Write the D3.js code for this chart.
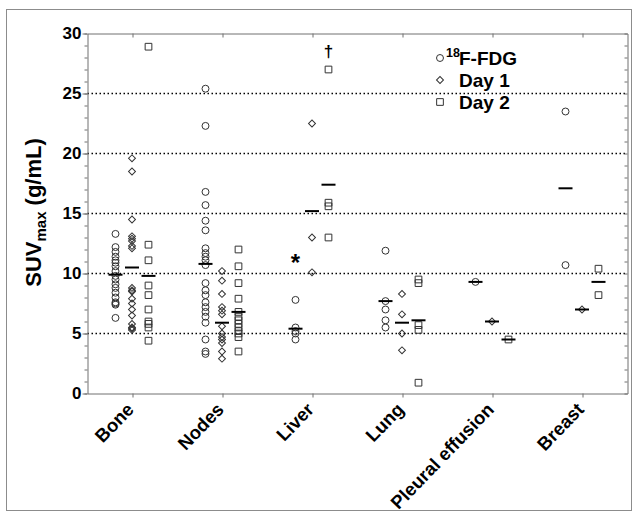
<!DOCTYPE html>
<html>
<head>
<meta charset="utf-8">
<script src="https://cdn.jsdelivr.net/npm/d3@7"></script>
<style>
  body { margin: 0; background: #fff; }
  svg { font-family: Arial, "Liberation Sans", sans-serif; }
</style>
</head>
<body>
<script>
// categories and series
var categories = ["Bone", "Nodes", "Liver", "Lung", "Pleural effusion", "Breast"];
var series = ["FDG", "Day 1", "Day 2"];

// individual SUVmax values per category
var fdgValues = [
  [13.3, 12.2, 11.8, 11.4, 11.1, 10.9, 10.6, 10.2, 9.8, 9.5, 9.1, 8.8, 8.4, 8.0, 7.6, 7.5, 7.4, 6.3],
  [25.4, 22.3, 16.8, 15.7, 14.4, 13.6, 12.1, 11.7, 11.4, 11.1, 10.7, 9.2, 8.6, 8.2, 7.6, 7.2, 6.8, 6.4, 5.9, 4.5, 3.5, 3.3],
  [7.8, 5.5, 5.2, 5.0, 4.5],
  [11.9, 7.7, 7.0, 6.1, 5.5],
  [9.3],
  [23.5, 10.7]
];
var day1Values = [
  [19.6, 18.5, 14.5, 13.1, 12.9, 12.7, 12.3, 12.1, 8.8, 8.6, 8.5, 7.9, 7.5, 7.0, 6.5, 5.8, 5.5, 5.4, 5.3],
  [10.2, 9.4, 8.3, 7.2, 6.9, 6.6, 5.6, 5.0, 4.7, 4.5, 4.2, 3.5, 2.9],
  [22.5, 13.0, 10.1],
  [8.3, 6.6, 5.0, 3.6],
  [6.0],
  [7.0]
];
var day2Values = [
  [28.9, 12.4, 11.1, 9.0, 8.2, 7.0, 6.0, 5.8, 5.5, 4.4],
  [12.0, 10.6, 9.2, 7.9, 6.8, 6.4, 6.1, 5.8, 5.5, 5.2, 5.0, 4.7, 3.5],
  [27.0, 15.9, 15.6, 13.0],
  [9.5, 9.2, 5.7, 5.3, 0.9],
  [4.5],
  [10.4, 8.2]
];

// mean bars drawn in the figure
var fdgMeans = [9.9, 10.8, 5.4, 7.7, 9.3, 17.1];
var day1Means = [10.5, 5.9, 15.2, 5.9, 6.0, 7.0];
var day2Means = [9.8, 6.8, 17.4, 6.1, 4.5, 9.3];

// y axis ticks
var yTicks = [0, 5, 10, 15, 20, 25, 30];
var gridValues = [5, 10, 15, 20, 25];

// significance marks
var marks = [
  {category: "Liver", series: "FDG", value: 11.2, text: "*"},
  {category: "Liver", series: "Day 2", value: 28.5, text: "\u2020"}
];

// legend labels
var legendSup = ["18", "", ""];
var legendLabels = ["F-FDG", "Day 1", "Day 2"];

var allValues = [fdgValues, day1Values, day2Values];
var allMeans = [fdgMeans, day1Means, day2Means];

// dimensions
var W = 638, H = 517;
var margin = {top: 33.5, right: 10.5, bottom: 123.5, left: 87.5},
    width = W - margin.left - margin.right,
    height = H - margin.top - margin.bottom;

var svg = d3.select("body").append("svg")
    .attr("width", W)
    .attr("height", H);

// outer frame
svg.append("rect")
    .attr("x", 6.5).attr("y", 9.5)
    .attr("width", 625).attr("height", 501)
    .attr("fill", "#fff")
    .attr("stroke", "#8c8c8c")
    .attr("stroke-width", 1);

var g = svg.append("g")
    .attr("transform", "translate(" + margin.left + "," + margin.top + ")");

// scales
var x = d3.scalePoint().domain(categories).range([0, width]).padding(0.5);
var xs = d3.scalePoint().domain(series).range([-17, 16]);
var y = d3.scaleLinear().domain([0, 30]).range([height, 0]);

// dotted gridlines
g.selectAll(".grid")
    .data(gridValues)
    .enter().append("line")
    .attr("x1", 0).attr("x2", width)
    .attr("y1", function(d){ return y(d); })
    .attr("y2", function(d){ return y(d); })
    .attr("stroke", "#000")
    .attr("stroke-width", 1.5)
    .attr("stroke-dasharray", "1.5,2.5");

var axisColor = "#707070";

// minor ticks left
g.append("g")
    .call(d3.axisLeft(y).ticks(30).tickSize(3).tickFormat(""))
    .call(function(a){ a.select(".domain").remove(); })
    .selectAll("line").attr("stroke", axisColor);

// left axis
var leftAxis = g.append("g")
    .call(d3.axisLeft(y).tickValues(yTicks).tickSize(5).tickPadding(1).tickSizeOuter(0));
leftAxis.selectAll("line, path").attr("stroke", axisColor);
leftAxis.selectAll("text")
    .style("font-size", "17px")
    .style("font-weight", "bold")
    .attr("fill", "#000");

// right frame with inward ticks
var rightAxis = g.append("g")
    .attr("transform", "translate(" + width + ",0)")
    .call(d3.axisRight(y).ticks(30).tickSize(-3).tickSizeOuter(0).tickFormat(""));
rightAxis.selectAll("line, path").attr("stroke", axisColor);

// top frame with inward ticks
var topAxis = g.append("g")
    .call(d3.axisTop(x).tickSize(-4).tickSizeOuter(0).tickFormat(""));
topAxis.selectAll("line, path").attr("stroke", axisColor);

// bottom axis
var bottomAxis = g.append("g")
    .attr("transform", "translate(0," + height + ")")
    .call(d3.axisBottom(x).tickSize(4).tickSizeOuter(0));
bottomAxis.selectAll("line, path").attr("stroke", axisColor);
bottomAxis.selectAll("text")
    .style("font-size", "18.5px")
    .style("font-weight", "bold")
    .attr("fill", "#000")
    .style("text-anchor", "end")
    .attr("y", 0)
    .attr("dy", 0)
    .attr("transform", "translate(2,17) rotate(-46)");

// y label
var ylab = svg.append("text")
    .attr("transform", "translate(41," + (margin.top + height / 2 - 1) + ") rotate(-90)")
    .attr("text-anchor", "middle")
    .style("font-size", "22px")
    .style("font-weight", "bold");
ylab.append("tspan").text("SUV");
ylab.append("tspan").attr("dy", 5).style("font-size", "15px").text("max");
ylab.append("tspan").attr("dy", -5).text(" (g/mL)");

// symbols: circle, diamond (square turned 45 degrees), square
var symbolTypes = [d3.symbolCircle, d3.symbolSquare, d3.symbolSquare];
var symbolSizes = [38, 24, 45];
var symbolTurn = [0, 45, 0];
function symbolPath(i) {
  return d3.symbol().type(symbolTypes[i]).size(symbolSizes[i])();
}

series.forEach(function(s, si) {
  categories.forEach(function(c, ci) {
    var cx = x(c) + xs(s);
    g.selectAll(null)
        .data(allValues[si][ci])
        .enter().append("path")
        .attr("d", symbolPath(si))
        .attr("transform", function(d){
          return "translate(" + cx + "," + y(d) + ") rotate(" + symbolTurn[si] + ")";
        })
        .attr("fill", "none")
        .attr("stroke", "#333")
        .attr("stroke-width", 1);
  });
});

// mean bars
series.forEach(function(s, si) {
  g.selectAll(null)
      .data(allMeans[si])
      .enter().append("line")
      .attr("x1", function(d, i){ return x(categories[i]) + xs(s) - 7; })
      .attr("x2", function(d, i){ return x(categories[i]) + xs(s) + 7; })
      .attr("y1", function(d){ return y(d); })
      .attr("y2", function(d){ return y(d); })
      .attr("stroke", "#000")
      .attr("stroke-width", 2);
});

// significance marks
g.selectAll(".mark")
    .data(marks)
    .enter().append("text")
    .attr("x", function(d){ return x(d.category) + xs(d.series); })
    .attr("y", function(d){ return y(d.value); })
    .attr("dy", function(d){ return d.text === "*" ? "0.5em" : "0.3em"; })
    .attr("text-anchor", "middle")
    .style("font-weight", "bold")
    .style("font-size", function(d){ return d.text === "*" ? "24px" : "17px"; })
    .text(function(d){ return d.text; });

// legend
var legend = svg.append("g").attr("transform", "translate(440,58)");
legendLabels.forEach(function(lab, i) {
  var row = legend.append("g").attr("transform", "translate(0," + (i * 22) + ")");
  row.append("path")
      .attr("d", symbolPath(i))
      .attr("transform", "rotate(" + symbolTurn[i] + ")")
      .attr("fill", "none")
      .attr("stroke", "#333");
  if (legendSup[i]) {
    row.append("text")
        .attr("x", 6)
        .attr("y", -1)
        .style("font-size", "12.5px")
        .style("font-weight", "bold")
        .text(legendSup[i]);
  }
  row.append("text")
      .attr("x", 19)
      .attr("y", 7)
      .style("font-size", "19px")
      .style("font-weight", "bold")
      .text(lab);
});
</script>
</body>
</html>
